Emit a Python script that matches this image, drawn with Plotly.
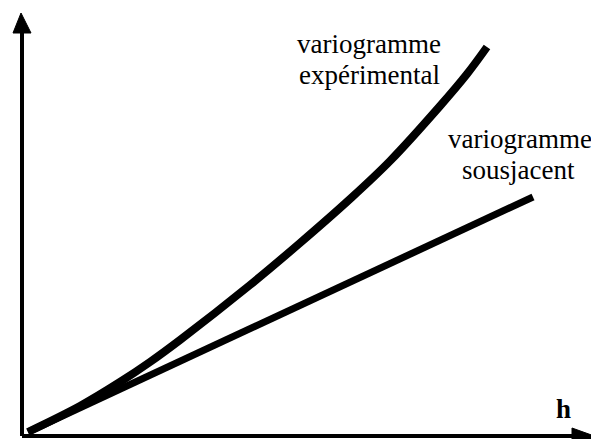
import plotly.graph_objects as go

# Data (arbitrary units: h = lag distance, gamma = variogram value)
h_exp = [6, 58, 98, 128, 158, 228, 278, 328, 368, 418, 445, 465]
g_exp = [4, 30, 54, 74, 96, 151, 193, 237, 275, 330, 362, 389]
h_sub = [6, 511]
g_sub = [4, 239]

label_exp = ["variogramme", "expérimental"]
label_sub = ["variogramme", "sousjacent"]
axis_label = "h"

fig = go.Figure()
fig.add_trace(go.Scatter(x=h_exp, y=g_exp, mode="lines",
                         line=dict(color="black", width=8, shape="spline", smoothing=1.0),
                         hoverinfo="skip"))
fig.add_trace(go.Scatter(x=h_sub, y=g_sub, mode="lines",
                         line=dict(color="black", width=7),
                         hoverinfo="skip"))

# Axes with arrows
fig.add_shape(type="line", x0=0, y0=0, x1=0, y1=405, line=dict(color="black", width=4))
fig.add_shape(type="path", path="M -9,403 L 9,403 L -1,423 Z", fillcolor="black", line=dict(color="black", width=1))
fig.add_shape(type="line", x0=0, y0=0, x1=552, y1=0, line=dict(color="black", width=4))
fig.add_shape(type="path", path="M 550,8 L 575,-1 L 550,-10 Z", fillcolor="black", line=dict(color="black", width=1))

font = dict(family="Liberation Serif, Times New Roman, serif", size=27, color="black")
fig.add_annotation(x=347, y=392, text=label_exp[0], showarrow=False, font=font, xanchor="center", yanchor="middle")
fig.add_annotation(x=347, y=361, text=label_exp[1], showarrow=False, font=font, xanchor="center", yanchor="middle")
fig.add_annotation(x=498, y=297, text=label_sub[0], showarrow=False, font=font, xanchor="center", yanchor="middle")
fig.add_annotation(x=496, y=266, text=label_sub[1], showarrow=False, font=font, xanchor="center", yanchor="middle")
fig.add_annotation(x=541.5, y=27, text="<b>" + axis_label + "</b>", showarrow=False, font=font, xanchor="center", yanchor="middle")

# The page body has an 8px margin, so the figure is 8px smaller and ranges are offset.
fig.update_layout(
    width=591, height=431,
    margin=dict(l=0, r=0, t=0, b=0),
    paper_bgcolor="white", plot_bgcolor="white",
    showlegend=False,
    xaxis=dict(range=[-14, 577], visible=False, fixedrange=True),
    yaxis=dict(range=[-3, 428], visible=False, fixedrange=True),
)

fig.write_html("out.html", config={"displayModeBar": False})
